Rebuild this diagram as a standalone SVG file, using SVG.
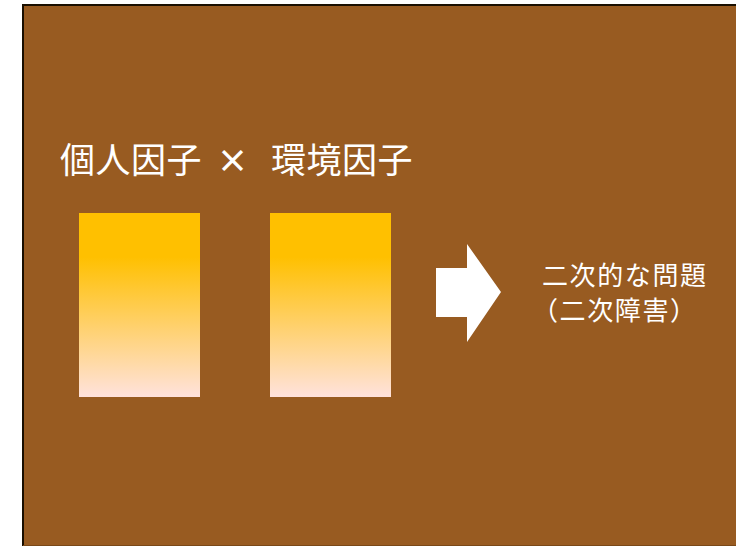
<svg xmlns="http://www.w3.org/2000/svg" width="736" height="546" viewBox="0 0 736 546">
<defs>
<linearGradient id="g" x1="0" y1="0" x2="0" y2="1">
<stop offset="0" stop-color="#FFC000"/>
<stop offset="0.24" stop-color="#FFC000"/>
<stop offset="1" stop-color="#FFE2DC"/>
</linearGradient>
<style>
.t{fill:#FFFFFF;font-family:"Noto Sans CJK JP","Noto Sans CJK SC",sans-serif;}
</style>
</defs>
<rect x="0" y="0" width="736" height="546" fill="#FFFFFF"/>
<rect x="22" y="4" width="716" height="543" fill="#985B21"/>
<path d="M23 546 V5 H736" fill="none" stroke="#1a0f00" stroke-width="2"/>
<line x1="23" y1="545.5" x2="736" y2="545.5" stroke="#7A4818" stroke-width="1"/>
<g id="title">
<text class="t" x="60" y="173" font-size="35" letter-spacing="0.5">個人因子</text>
<text class="t" x="232.5" y="173" font-size="32" font-weight="bold" text-anchor="middle">×</text>
<text class="t" x="271" y="173" font-size="35" letter-spacing="0.5">環境因子</text>
</g>
<g id="box1"><rect x="79" y="213" width="121" height="184" fill="url(#g)"/></g>
<g id="box2"><rect x="270" y="213" width="121" height="184" fill="url(#g)"/></g>
<g id="arrow"><polygon points="436,268 467,268 467,244 501,292 467,342 467,317 436,317" fill="#FFFFFF"/></g>
<g id="result">
<text class="t" x="542" y="285" font-size="26" letter-spacing="1.6">二次的な問題</text>
<text class="t" x="532" y="320" font-size="26" letter-spacing="1.6">（二次障害）</text>
</g>
</svg>
